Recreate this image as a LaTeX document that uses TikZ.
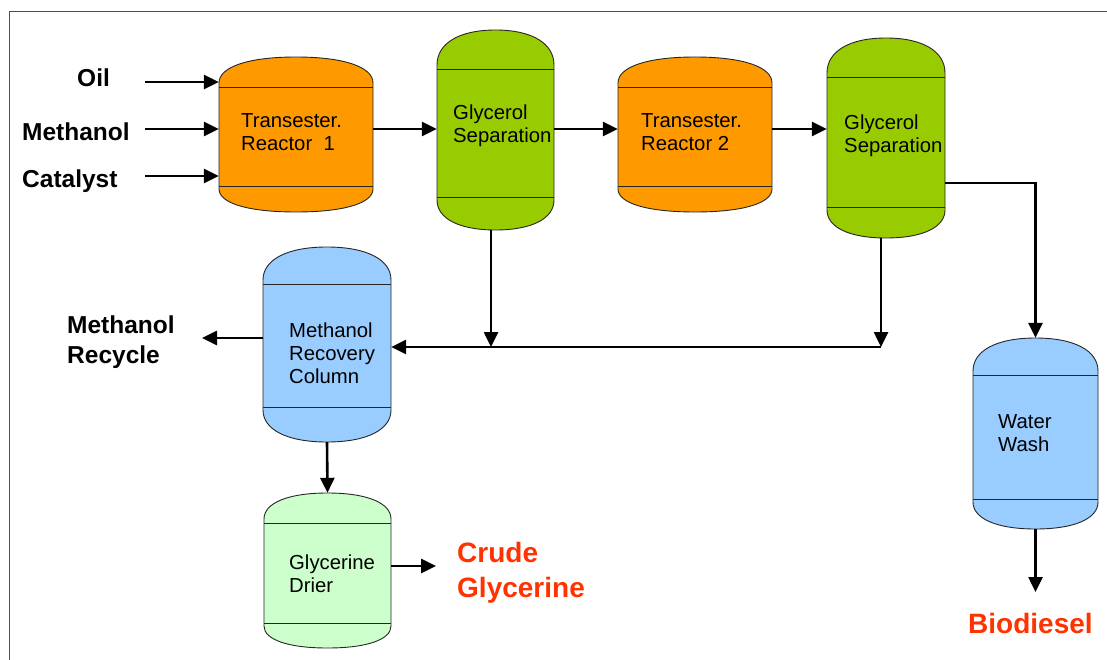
\documentclass[tikz,border=0pt]{standalone}
\usepackage{fontspec}
\setmainfont{Liberation Sans}
\usetikzlibrary{arrows.meta}

\definecolor{reactorfill}{RGB}{255,153,0}
\definecolor{sepfill}{RGB}{153,204,0}
\definecolor{bluefill}{RGB}{153,204,255}
\definecolor{drierfill}{RGB}{204,255,204}
\definecolor{outred}{RGB}{255,51,0}
\definecolor{framegray}{RGB}{80,80,80}

\tikzset{
  flow/.style={line width=2.6pt, -{Triangle[length=15pt,width=14pt]}},
  vesselline/.style={draw=black!85, line width=0.9pt},
  lbl/.style={anchor=base west, inner sep=0pt, font=\bfseries\fontsize{24.5}{30}\selectfont},
  outlbl/.style={anchor=base west, inner sep=0pt, text=outred, font=\bfseries\fontsize{28}{35}\selectfont},
  vtext/.style={anchor=base west, inner sep=0pt, font=\fontsize{20.3}{23}\selectfont},
}

% lines of text stacked, baseline on the first line
\newcommand{\stacklines}[1]{\begin{tabular}[t]{@{}l@{}}#1\end{tabular}}

% vessel: name, fill, left x, right x, top y, upper band y, lower band y, bottom y
\newcommand{\vessel}[8]{%
  \pgfmathsetmacro\vxa{#3}\pgfmathsetmacro\vxb{#4}%
  \pgfmathsetmacro\vxc{(#3+#4)/2}\pgfmathsetmacro\vrx{(#4-#3)/2}%
  \pgfmathsetmacro\vst{#6-4}\pgfmathsetmacro\vsb{#7+3}%
  \pgfmathsetmacro\vht{\vst-#5}\pgfmathsetmacro\vhb{#8-\vsb}%
  \pgfmathsetmacro\vca{\vst-0.62*\vht}\pgfmathsetmacro\vcb{\vsb+0.62*\vhb}%
  \pgfmathsetmacro\vcl{\vxc-0.62*\vrx}\pgfmathsetmacro\vcr{\vxc+0.62*\vrx}%
  \pgfmathsetmacro\vcy{(#5+#8)/2}%
  \pgfmathsetmacro\vw{#4-#3}\pgfmathsetmacro\vh{#8-#5}%
  \filldraw[vesselline, fill=#2]
    (\vxa,\vst) .. controls (\vxa,\vca) and (\vcl,#5) .. (\vxc,#5)
                .. controls (\vcr,#5) and (\vxb,\vca) .. (\vxb,\vst)
    -- (\vxb,\vsb) .. controls (\vxb,\vcb) and (\vcr,#8) .. (\vxc,#8)
                .. controls (\vcl,#8) and (\vxa,\vcb) .. (\vxa,\vsb) -- cycle;
  \draw[vesselline] (\vxa,#6) -- (\vxb,#6);
  \draw[vesselline] (\vxa,#7) -- (\vxb,#7);
  \node[inner sep=0pt, minimum width=\vw pt, minimum height=\vh pt] (#1) at (\vxc,\vcy) {};
}

\begin{document}
\begin{tikzpicture}[x=1pt, y=-1pt]
  \useasboundingbox (0,0) rectangle (1107,660);
  \fill[white] (0,0) rectangle (1107,660);

  % frame
  \draw[framegray, line width=1pt] (1107,12) -- (9,12) -- (9,660);

  % process vessels
  \vessel{r1}{reactorfill}{219}{373}{57}{87}{186}{212}
  \vessel{s1}{sepfill}{437}{554}{30}{69}{197}{230}
  \vessel{r2}{reactorfill}{618}{772}{57}{87}{186}{212}
  \vessel{s2}{sepfill}{827}{945}{38}{77}{207}{238}
  \vessel{col}{bluefill}{263}{391}{247}{284}{407}{442}
  \vessel{dr}{drierfill}{264}{391}{493}{523}{623}{648}
  \vessel{ww}{bluefill}{973}{1098}{338}{375}{499}{529}

  % vessel captions
  \node[vtext] (r1t) at (241,128) {\stacklines{Transester.\\Reactor\ \ 1}};
  \node[vtext] (s1t) at (453,120) {\stacklines{Glycerol\\Separation}};
  \node[vtext] (r2t) at (641,128) {\stacklines{Transester.\\Reactor\ 2}};
  \node[vtext] (s2t) at (844,130) {\stacklines{Glycerol\\Separation}};
  \node[vtext] (colt) at (289,337) {\stacklines{Methanol\\Recovery\\Column}};
  \node[vtext] (drt) at (289,569) {\stacklines{Glycerine\\Drier}};
  \node[vtext] (wwt) at (998,428) {\stacklines{Water\\Wash}};

  % feed labels
  \node[lbl] (oil) at (77,87) {Oil};
  \node[lbl] (meoh) at (22,141) {Methanol};
  \node[lbl] (cat) at (22,188) {Catalyst};
  \node[lbl] (recyc) at (67,333) {\stacklines{Methanol\\Recycle}};

  % product labels
  \node[outlbl] (crude) at (457,562) {\stacklines{Crude\\Glycerine}};
  \node[outlbl] (bio) at (968,633) {Biodiesel};

  % free ends and junctions
  \coordinate (inOil) at (145,82);
  \coordinate (inMeoh) at (145,129);
  \coordinate (inCat) at (145,176);
  \coordinate (mainline) at (0,129);
  \coordinate (sepout) at (0,183);
  \coordinate (j1) at (491,347);
  \coordinate (j2) at (881,347);
  \coordinate (recOut) at (202,338);
  \coordinate (crudeOut) at (436,566);
  \coordinate (bioLevel) at (0,592);

  % feeds
  \draw[flow] (inOil) -- (inOil -| r1.west);
  \draw[flow] (inMeoh) -- (inMeoh -| r1.west);
  \draw[flow] (inCat) -- (inCat -| r1.west);

  % main train
  \draw[flow] (mainline -| r1.east) -- (mainline -| s1.west);
  \draw[flow] (mainline -| s1.east) -- (mainline -| r2.west);
  \draw[flow] (mainline -| r2.east) -- (mainline -| s2.west);

  % ester phase to washing
  \draw[flow] (sepout -| s2.east) -| (ww.north);
  \draw[flow] (ww.south) -- (ww.south |- bioLevel);

  % glycerol phases to methanol recovery
  \draw[flow] (j1 |- s1.south) -- (j1);
  \draw[flow] (j2 |- s2.south) -- (j2);
  \draw[flow] (j2) -- (j2 -| col.east);

  % recovery and drying
  \draw[flow] (recOut -| col.west) -- (recOut);
  \draw[flow] (col.south) -- (dr.north);
  \draw[flow] (crudeOut -| dr.east) -- (crudeOut);
\end{tikzpicture}
\end{document}
